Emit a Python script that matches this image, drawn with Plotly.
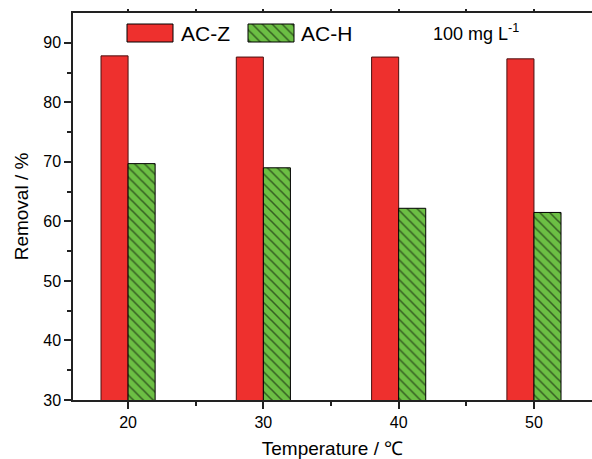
import plotly.graph_objects as go

temps = [20, 30, 40, 50]
ac_z = [87.8, 87.6, 87.6, 87.3]
ac_h = [69.7, 69.0, 62.2, 61.5]
series_names = ["AC-Z", "AC-H"]

RED = "#EE302E"
GREEN = "#6CBF44"
FONT = "Arial, Liberation Sans, sans-serif"
AX = "#222222"

fig = go.Figure()
fig.add_trace(go.Bar(x=temps, y=ac_z, width=2, offset=-2, base=0,
                     marker=dict(color=RED, line=dict(color="#4a1010", width=1)),
                     name=series_names[0], showlegend=False))
fig.add_trace(go.Bar(x=temps, y=ac_h, width=2, offset=0, base=0,
                     marker=dict(color=GREEN, line=dict(color="black", width=1),
                                 pattern=dict(shape="\\", fgcolor="black", size=7, solidity=0.22)),
                     name=series_names[1], showlegend=False))

# top axis (ticks only)
fig.add_trace(go.Scatter(x=[20], y=[None], xaxis="x2", showlegend=False, hoverinfo="skip"))

# legend swatches on a pixel-coordinate overlay axis
fig.add_trace(go.Bar(x=[150], y=[18], base=[24], width=[46], xaxis="x3", yaxis="y3",
                     marker=dict(color=RED, line=dict(color="black", width=1)),
                     showlegend=False, hoverinfo="skip"))
fig.add_trace(go.Bar(x=[271], y=[18], base=[24], width=[46], xaxis="x3", yaxis="y3",
                     marker=dict(color=GREEN, line=dict(color="black", width=1),
                                 pattern=dict(shape="\\", fgcolor="black", size=7, solidity=0.22)),
                     showlegend=False, hoverinfo="skip"))

xr = [15.93, 54.29]
fig.update_layout(
    width=592, height=459,
    margin=dict(l=73, r=0, t=13, b=59, autoexpand=False),
    paper_bgcolor="white", plot_bgcolor="white",
    font=dict(family=FONT, size=16, color="black"),
    barmode="overlay",
    xaxis=dict(range=xr, tickmode="array", tickvals=temps, automargin=False,
               ticks="outside", ticklen=7, tickwidth=1.5, tickcolor=AX,
               showline=True, linecolor=AX, linewidth=1.5, showgrid=False, zeroline=False,
               minor=dict(tickvals=[25, 35, 45], ticks="outside", ticklen=4, tickwidth=1.5, tickcolor=AX),
               title=dict(text="Temperature / ℃", font=dict(size=19), standoff=12),
               tickfont=dict(size=16)),
    xaxis2=dict(overlaying="x", side="top", range=xr, tickmode="array", tickvals=temps,
                automargin=False,
                showticklabels=False, ticks="outside", ticklen=2, tickwidth=1.5, tickcolor=AX,
                showline=True, linecolor=AX, linewidth=1.5, showgrid=False, zeroline=False,
                minor=dict(tickvals=[25, 35, 45], ticks="outside", ticklen=2, tickwidth=1.5, tickcolor=AX)),
    yaxis=dict(range=[30, 95], tickmode="array", tickvals=[30, 40, 50, 60, 70, 80, 90],
               automargin=False,
               ticks="outside", ticklen=7, tickwidth=1.5, tickcolor=AX,
               showline=True, linecolor=AX, linewidth=1.5, showgrid=False, zeroline=False,
               minor=dict(tickvals=[35, 45, 55, 65, 75, 85], ticks="outside", ticklen=4, tickwidth=1.5, tickcolor=AX),
               title=dict(text="Removal / %", font=dict(size=19), standoff=10),
               tickfont=dict(size=16)),
    xaxis3=dict(overlaying="x", range=[73, 592], visible=False, fixedrange=True, automargin=False),
    yaxis3=dict(overlaying="y", range=[400, 13], visible=False, fixedrange=True, anchor="x3",
                automargin=False),
    annotations=[
        dict(xref="x3", yref="y3", x=179, y=33, text=series_names[0], showarrow=False,
             xanchor="left", yanchor="middle", font=dict(size=21)),
        dict(xref="x3", yref="y3", x=299, y=33, text=series_names[1], showarrow=False,
             xanchor="left", yanchor="middle", font=dict(size=21)),
        dict(xref="x3", yref="y3", x=431, y=32, text="100 mg L<sup>-1</sup>", showarrow=False,
             xanchor="left", yanchor="middle", font=dict(size=18)),
    ],
)

fig.write_html("out.html", config={"displayModeBar": False},
               post_script="document.body.style.margin='0';document.body.style.overflow='hidden';")
